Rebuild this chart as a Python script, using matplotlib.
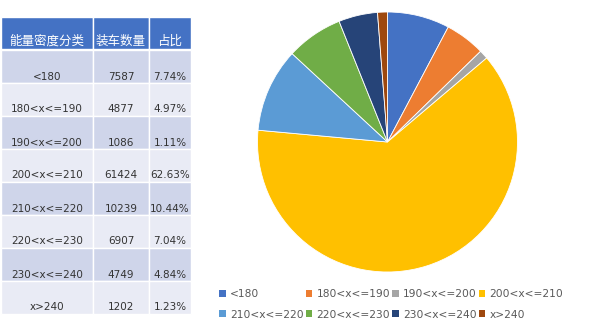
import matplotlib.pyplot as plt
from matplotlib.patches import Rectangle, Patch

plt.rcParams['font.family'] = ['DejaVu Sans', 'Noto Sans CJK SC']

categories = ["<180", "180<x<=190", "190<x<=200", "200<x<=210",
              "210<x<=220", "220<x<=230", "230<x<=240", "x>240"]
counts = [7587, 4877, 1086, 61424, 10239, 6907, 4749, 1202]
shares = ["7.74%", "4.97%", "1.11%", "62.63%", "10.44%", "7.04%", "4.84%", "1.23%"]
headers = ["能量密度分类", "装车数量", "占比"]
colors = ["#4472C4", "#ED7D31", "#A5A5A5", "#FFC000",
          "#5B9BD5", "#70AD47", "#264478", "#9E480E"]

W, H = 600, 331
fig = plt.figure(figsize=(6, 3.31), dpi=100)

# table drawn in pixel coords
tab = fig.add_axes([0, 0, 1, 1])
tab.set_xlim(0, W)
tab.set_ylim(H, 0)
tab.axis("off")

col_x = [1, 93, 149, 191]
top, head_h, row_h = 17, 32, 33
text_col = "#333333"

for j in range(3):
    tab.add_patch(Rectangle((col_x[j], top), col_x[j + 1] - col_x[j], head_h,
                            facecolor="#4472C4", edgecolor="white", lw=1))
    tab.text((col_x[j] + col_x[j + 1]) / 2, top + head_h - 1, headers[j],
             color="white", fontsize=9, ha="center", va="bottom",
             family=["Noto Sans CJK SC", "DejaVu Sans"])

for i, cat in enumerate(categories):
    y = top + head_h + 1 + i * row_h
    fc = "#CFD5EA" if i % 2 == 0 else "#E9EBF5"
    vals = [cat, str(counts[i]), shares[i]]
    for j in range(3):
        tab.add_patch(Rectangle((col_x[j], y), col_x[j + 1] - col_x[j], row_h,
                                facecolor=fc, edgecolor="white", lw=1))
        tab.text((col_x[j] + col_x[j + 1]) / 2, y + row_h - 1.5, vals[j],
                 color=text_col, fontsize=7.5, ha="center", va="bottom")

# pie
cx, cy, r = 387.5, 142, 130
ax = fig.add_axes([(cx - r) / W, 1 - (cy + r) / H, 2 * r / W, 2 * r / H])
ax.pie(counts, colors=colors, startangle=90, counterclock=False,
       wedgeprops=dict(edgecolor="white", linewidth=0.6))
ax.set_xlim(-1, 1)
ax.set_ylim(-1, 1)
ax.set_aspect("equal")

handles = [Patch(facecolor=c, label=l) for c, l in zip(colors, categories)]
order = [0, 4, 1, 5, 2, 6, 3, 7]
leg = fig.legend([handles[k] for k in order], [categories[k] for k in order],
                 ncol=4, loc="lower left", bbox_to_anchor=(212 / W, 4 / H),
                 frameon=False, fontsize=7.7, handlelength=0.6, handleheight=0.6,
                 handletextpad=0.4, columnspacing=0.2, labelspacing=0.95,
                 borderpad=0.2)
for t in leg.get_texts():
    t.set_color("#595959")

fig.savefig("out.png", dpi=100)
